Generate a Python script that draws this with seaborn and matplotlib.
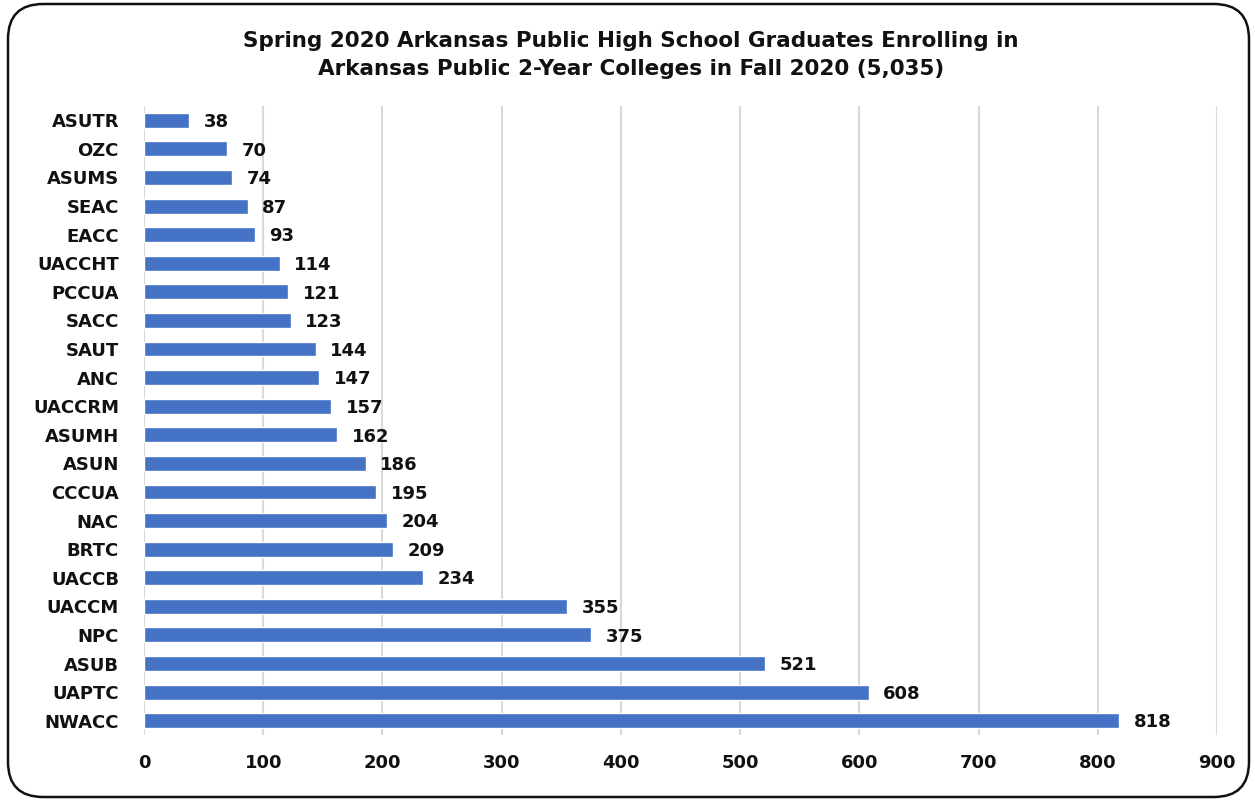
import matplotlib
matplotlib.use("Agg")
import matplotlib.pyplot as plt
import seaborn as sns
import pandas as pd
from matplotlib.patches import FancyBboxPatch

colleges = ["ASUTR", "OZC", "ASUMS", "SEAC", "EACC", "UACCHT", "PCCUA", "SACC", "SAUT",
            "ANC", "UACCRM", "ASUMH", "ASUN", "CCCUA", "NAC", "BRTC", "UACCB", "UACCM",
            "NPC", "ASUB", "UAPTC", "NWACC"]
enrolled = [38, 70, 74, 87, 93, 114, 121, 123, 144, 147, 157, 162, 186, 195, 204, 209,
            234, 355, 375, 521, 608, 818]
x_ticks = [0, 100, 200, 300, 400, 500, 600, 700, 800, 900]
title = ("Spring 2020 Arkansas Public High School Graduates Enrolling in\n"
         "Arkansas Public 2-Year Colleges in Fall 2020 (5,035)")

df = pd.DataFrame({"college": colleges, "n": enrolled})

sns.set_theme(style="white")
plt.rcParams["font.family"] = ["DejaVu Sans"]

fig = plt.figure(figsize=(12.55, 8.01), dpi=100)
ax = fig.add_axes([144/1255, 1 - 735/801, (1217-144)/1255, (735-106)/801])

sns.barplot(data=df, x="n", y="college", orient="h", color="#4472C4",
            saturation=1, width=0.52, ax=ax)

for i, v in enumerate(enrolled):
    ax.text(v + 12, i + 0.06, str(v), va="center", ha="left", fontsize=13,
            fontweight="bold", color="#111111")

ax.set_xlim(0, 900)
ax.set_ylim(len(colleges) - 0.5, -0.5)
ax.set_xticks(x_ticks)
ax.set_xticklabels([str(t) for t in x_ticks], fontsize=13, fontweight="bold", color="#111111")
ax.tick_params(axis="y", labelsize=13, length=0, pad=18)
for lbl in ax.get_yticklabels():
    lbl.set_fontweight("bold")
    lbl.set_color("#111111")
ax.tick_params(axis="x", length=0, pad=14)
ax.set_xlabel("")
ax.set_ylabel("")
ax.xaxis.grid(True, color="#d9d9d9", linewidth=1.5)
ax.set_axisbelow(True)
for s in ax.spines.values():
    s.set_visible(False)

fig.text(631/1255, 1 - 55/801, title, ha="center", va="center", fontsize=15.5,
         fontweight="bold", color="#111111", linespacing=1.55)

border = FancyBboxPatch((8/1255, 4/801), 1241/1255, 793/801,
                        boxstyle="round,pad=0,rounding_size=0.028",
                        transform=fig.transFigure, fill=False,
                        edgecolor="#111111", linewidth=1.8,
                        mutation_aspect=1255/801)
fig.patches.append(border)

fig.savefig("out.png", dpi=100)
